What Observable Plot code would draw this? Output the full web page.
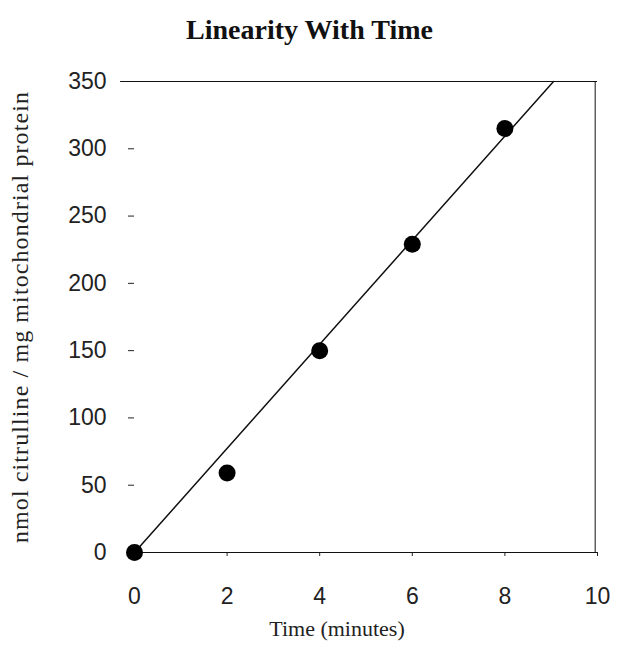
<!DOCTYPE html>
<html><head><meta charset="utf-8">
<script src="https://cdn.jsdelivr.net/npm/d3@7"></script>
<script src="https://cdn.jsdelivr.net/npm/@observablehq/plot@0.6"></script>
<style>
body{margin:0;background:#fff;width:619px;}
#title{height:50px;line-height:60px;text-align:center;font-family:"Liberation Serif","Times New Roman",serif;font-weight:bold;font-size:28px;color:#111;}
.ylab text{letter-spacing:1.1px;}
</style></head>
<body>
<div id="title">Linearity With Time</div>
<div id="chart"></div>
<script>
const times = [0, 2, 4, 6, 8];
const citrulline = [0, 59, 150, 229, 315];
const fitX = [0, 9.05];
const fitY = [0, 350];
const xTicks = [0, 2, 4, 6, 8, 10];
const yTicks = [0, 50, 100, 150, 200, 250, 300, 350];
const xLabel = "Time (minutes)";
const yLabel = "nmol citrulline / mg mitochondrial protein";

const points = times.map((t, i) => ({t, v: citrulline[i]}));
const fit = fitX.map((t, i) => ({t, v: fitY[i]}));

const chart = Plot.plot({
  width: 619,
  height: 603,
  marginLeft: 134,
  marginRight: 22,
  marginTop: 31,
  marginBottom: 101,
  style: {fontFamily: "'Liberation Sans', Arial, sans-serif", fontSize: "23px", color: "#222", background: "#fff"},
  x: {domain: [0, 10]},
  y: {domain: [0, 350]},
  marks: [
    Plot.axisX({ticks: xTicks, tickSize: 4, tickPadding: 31, label: null, fontSize: 23}),
    Plot.axisY({ticks: yTicks, tickSize: 6, tickPadding: 22, label: null, fontSize: 23}),
    Plot.ruleY([350], {x1: -0.3, x2: 10, stroke: "#111", strokeWidth: 1.2}),
    Plot.ruleY([0], {x1: 0, x2: 10, stroke: "#111", strokeWidth: 1.2}),
    Plot.ruleX([9.95], {y1: 0, y2: 350, stroke: "#111", strokeWidth: 1}),
    Plot.line(fit, {x: "t", y: "v", stroke: "#111", strokeWidth: 1.5}),
    Plot.dot(points, {x: "t", y: "v", r: 8.5, fill: "#000", stroke: "none"}),
    Plot.text([xLabel], {frameAnchor: "bottom", dx: -29, dy: 83, fontFamily: "'Liberation Serif','Times New Roman',serif", fontSize: 22, fill: "#222"}),
    Plot.text([yLabel], {frameAnchor: "left", textAnchor: "middle", rotate: -90, dx: -114, fontFamily: "'Liberation Serif','Times New Roman',serif", fontSize: 24, fill: "#222", className: "ylab"})
  ]
});
document.getElementById("chart").appendChild(chart);
</script>
</body></html>
